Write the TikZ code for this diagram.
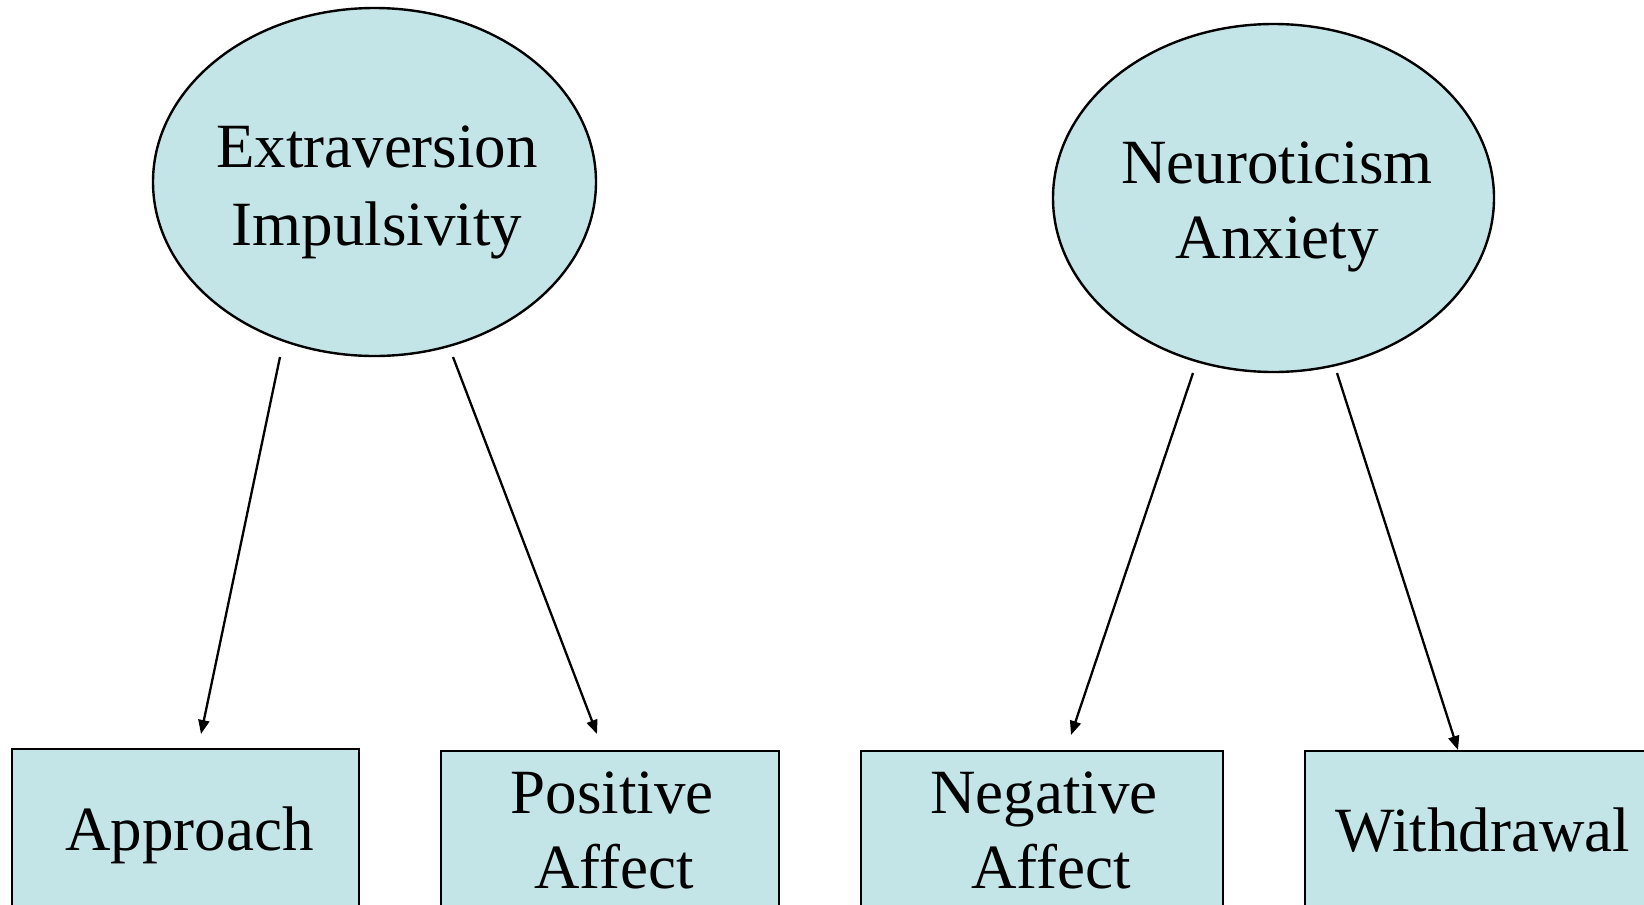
\documentclass[tikz,border=0pt]{standalone}
\usepackage{fontspec}
\setmainfont{Liberation Serif}
\usetikzlibrary{arrows.meta,shapes.geometric}
\definecolor{fillc}{RGB}{196,229,232}
\begin{document}
\begin{tikzpicture}[x=1pt,y=-1pt,
  shapebox/.style={draw=black, line width=2.4pt, fill=fillc, inner sep=0pt},
  lab/.style={font=\fontsize{63}{76}\selectfont, anchor=base, inner sep=0pt},
  conn/.style={line width=2.3pt, -{Triangle[length=14pt,width=11pt]}}]
\useasboundingbox (0,0) rectangle (1644,905);
\clip (0,0) rectangle (1644,905);
\fill[white] (0,0) rectangle (1644,905);
% ellipses
\node[shapebox, ellipse, minimum width=443pt, minimum height=348pt] (ext) at (374.5,182) {};
\node[shapebox, ellipse, minimum width=441pt, minimum height=348pt] (neu) at (1273.5,198) {};
\node[lab] (ext1) at (377,167) {Extraversion};
\node[lab] (ext2) at (377,245) {Impulsivity};
\node[lab] (neu1) at (1277,183) {Neuroticism};
\node[lab] (neu2) at (1277,258) {Anxiety};
% boxes
\node[shapebox, rectangle, anchor=north west, minimum width=347pt, minimum height=220pt] (app) at (11,748) {};
\node[shapebox, rectangle, anchor=north west, minimum width=338pt, minimum height=220pt] (pos) at (440,750) {};
\node[shapebox, rectangle, anchor=north west, minimum width=362pt, minimum height=220pt] (neg) at (860,750) {};
\node[shapebox, rectangle, anchor=north west, minimum width=400pt, minimum height=220pt] (wit) at (1304,750) {};
\node[lab] (appt) at (189.5,850) {Approach};
\node[lab] (post1) at (612,813) {Positive};
\node[lab] (post2) at (614,888) {Affect};
\node[lab] (negt1) at (1044,813) {Negative};
\node[lab] (negt2) at (1051,888) {Affect};
\node[lab] (witt) at (1482.5,851) {Withdrawal};
% connector ends
\coordinate (s1) at (280,357);
\coordinate (t1) at (201,734);
\coordinate (s2) at (453,357);
\coordinate (t2) at (597,734);
\coordinate (s3) at (1193,373);
\coordinate (t3) at (1071,735);
\coordinate (s4) at (1337,373);
\coordinate (t4) at (1458,750);
\draw[conn] (s1) -- (t1);
\draw[conn] (s2) -- (t2);
\draw[conn] (s3) -- (t3);
\draw[conn] (s4) -- (t4);
\end{tikzpicture}
\end{document}
